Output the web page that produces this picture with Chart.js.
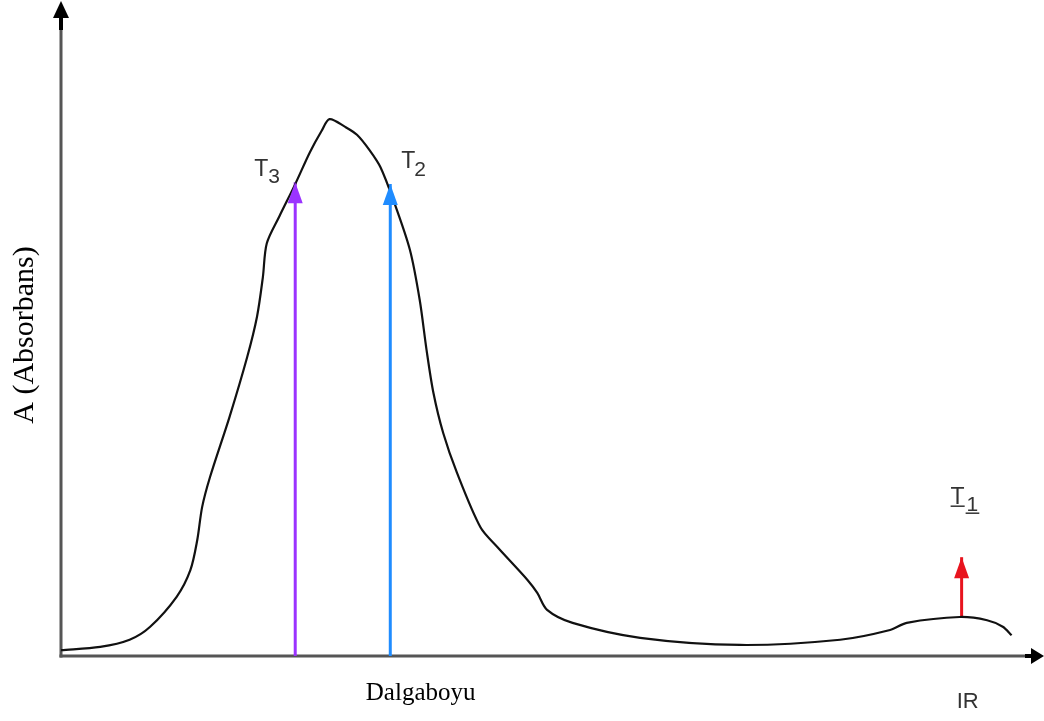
<!DOCTYPE html>
<html><head><meta charset="utf-8">
<script src="https://cdn.jsdelivr.net/npm/chart.js@4"></script>
<style>html,body{margin:0;padding:0;background:#fff}#wrap{width:1044px;height:721px}</style>
</head><body><div id="wrap"><canvas id="c" width="1044" height="721"></canvas></div>
<script>
// Absorption curve (arbitrary units)
const wavelength = [0, 4.0, 7.0, 9.1, 11.8, 13.2, 13.9, 14.4, 15.2, 17.2, 19.0, 20.0, 20.6, 21.0, 22.3, 23.9, 25.4, 26.6, 27.4, 29.0, 30.2, 31.5, 32.6, 33.9, 35.6, 36.6, 37.3, 38.0, 39.0, 40.4, 42.8, 44.5, 47.6, 48.6, 49.6, 52.2, 59.1, 69.3, 79.5, 84.6, 86.3, 91.7, 94.5, 96.1, 97.0];
const absorbance = [0.9, 1.4, 2.5, 4.5, 9.1, 13.2, 17.8, 22.9, 27.5, 36.8, 46.0, 52.2, 58.3, 63.5, 67.7, 72.6, 77.5, 80.8, 82.6, 81.4, 80.2, 77.8, 75.2, 70.2, 62.5, 54.8, 47.1, 40.5, 34.3, 28.2, 19.8, 16.8, 11.7, 9.7, 7.1, 5.1, 2.8, 1.7, 2.5, 4.0, 5.1, 6.0, 5.5, 4.5, 3.2];

// Transition arrows
const arrowNames = ['T', 'T', 'T'];
const arrowSubs = ['3', '2', '1'];
const arrowX = [23.9, 33.6, 91.9];
const arrowBase = [0, 0, 6.0];
const arrowTip = [72.9, 72.6, 15.2];

const xAxisTitle = 'Dalgaboyu';
const yAxisTitle = 'A (Absorbans)';
const regionLabel = 'IR';

const arrowColors = ['#9b33ff', '#1f8cff', '#e8141e'];

const curvePts = wavelength.map((x, i) => ({x, y: absorbance[i]}));
const arrowSets = arrowX.map((x, i) => ({
  data: [{x, y: arrowBase[i]}, {x, y: arrowTip[i]}],
  borderColor: arrowColors[i], borderWidth: 3, pointRadius: 0, tension: 0,
  borderCapStyle: 'butt', order: 2
}));

const decor = {
  id: 'decor',
  beforeDatasetsDraw(chart) {
    const {ctx, chartArea: a, scales: {x, y}} = chart;
    const x0 = x.getPixelForValue(0), y0 = y.getPixelForValue(0);
    ctx.save();
    ctx.strokeStyle = '#555'; ctx.lineWidth = 3; ctx.lineCap = 'butt';
    ctx.beginPath(); ctx.moveTo(x0, y0 + 1.5); ctx.lineTo(x0, a.top + 12); ctx.stroke();
    ctx.beginPath(); ctx.moveTo(x0 - 1.5, y0); ctx.lineTo(a.right - 8, y0); ctx.stroke();
    ctx.fillStyle = '#000';
    ctx.fillRect(x0 - 2, a.top + 10, 4, 14);
    ctx.beginPath(); ctx.moveTo(x0, a.top - 5); ctx.lineTo(x0 - 8, a.top + 12); ctx.lineTo(x0 + 8, a.top + 12); ctx.closePath(); ctx.fill();
    ctx.fillRect(a.right - 16, y0 - 2, 12, 4);
    ctx.beginPath(); ctx.moveTo(a.right + 3, y0); ctx.lineTo(a.right - 10, y0 - 8); ctx.lineTo(a.right - 10, y0 + 8); ctx.closePath(); ctx.fill();
    ctx.restore();
  },
  afterDatasetsDraw(chart) {
    const {ctx, chartArea: a, scales: {x, y}} = chart;
    ctx.save();
    arrowX.forEach((v, i) => {
      const px = x.getPixelForValue(v), py = y.getPixelForValue(arrowTip[i]);
      ctx.fillStyle = arrowColors[i];
      ctx.beginPath(); ctx.moveTo(px, py); ctx.lineTo(px - 7.5, py + 21); ctx.lineTo(px + 7.5, py + 21); ctx.closePath(); ctx.fill();
    });
    // labels
    const lab = (i, dx, dy, sdx, sdy, underline) => {
      const px = x.getPixelForValue(arrowX[i]), py = y.getPixelForValue(arrowTip[i]);
      ctx.fillStyle = '#333'; ctx.textAlign = 'left'; ctx.textBaseline = 'alphabetic';
      ctx.font = '23px "Liberation Sans", Arial, sans-serif';
      const w1 = ctx.measureText(arrowNames[i]).width;
      ctx.fillText(arrowNames[i], px + dx, py + dy);
      ctx.font = '21px "Liberation Sans", Arial, sans-serif';
      const w2 = ctx.measureText(arrowSubs[i]).width;
      ctx.fillText(arrowSubs[i], px + sdx, py + sdy);
      if (underline) {
        ctx.strokeStyle = '#333'; ctx.lineWidth = 1.5;
        ctx.beginPath(); ctx.moveTo(px + dx, py + dy + 2); ctx.lineTo(px + dx + w1, py + dy + 2); ctx.stroke();
        ctx.beginPath(); ctx.moveTo(px + sdx - 1, py + sdy + 2); ctx.lineTo(px + sdx + w2 + 1, py + sdy + 2); ctx.stroke();
      }
    };
    lab(0, -41, -6, -27, 1, false);
    lab(1, 11, -16, 24, -8, false);
    lab(2, -11, -53, 5, -46, true);
    // axis titles
    ctx.fillStyle = '#000';
    ctx.font = '25px "Liberation Serif", "Times New Roman", serif';
    ctx.textAlign = 'center';
    ctx.fillText(xAxisTitle, x.getPixelForValue(36.7), 700);
    ctx.save();
    ctx.translate(33, 335); ctx.rotate(-Math.PI / 2);
    ctx.font = '30px "Liberation Serif", "Times New Roman", serif';
    ctx.fillText(yAxisTitle, 0, 0);
    ctx.restore();
    ctx.fillStyle = '#333';
    ctx.font = '22px "Liberation Sans", Arial, sans-serif';
    ctx.textAlign = 'left';
    ctx.fillText(regionLabel, x.getPixelForValue(91.4), 708);
    ctx.restore();
  }
};

new Chart(document.getElementById('c'), {
  type: 'line',
  data: {
    datasets: [
      {data: curvePts, borderColor: '#111', borderWidth: 2.2, pointRadius: 0, tension: 0.3, fill: false, order: 1},
      ...arrowSets
    ]
  },
  options: {
    responsive: false, animation: false, devicePixelRatio: 1,
    layout: {padding: {left: 61, right: 3, top: 6, bottom: 65}},
    plugins: {legend: {display: false}, tooltip: {enabled: false}},
    scales: {
      x: {type: 'linear', min: 0, max: 100, display: false},
      y: {type: 'linear', min: 0, max: 100, display: false}
    }
  },
  plugins: [decor]
});
</script>
</body></html>
